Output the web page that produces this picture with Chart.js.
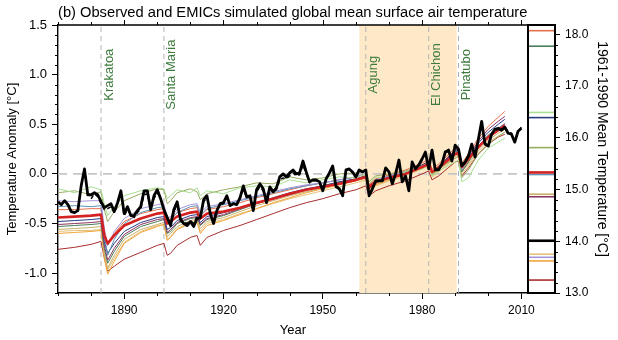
<!DOCTYPE html>
<html>
<head>
<meta charset="utf-8">
<script src="https://cdn.jsdelivr.net/npm/chart.js@4.4.1/dist/chart.umd.min.js"></script>
<style>
    html, body { margin: 0; padding: 0; background: #fff; }
    #wrap { position: relative; width: 618px; height: 340px; }
    #wrap canvas { position: absolute; left: 0; top: 0; }
</style>
</head>
<body>
<div id="wrap">
    <canvas id="mainChart" width="618" height="340"></canvas>
    <canvas id="sideChart" width="618" height="340"></canvas>
</div>
<script>
// observed anomaly, one value per year from 1870
const obsStartYear = 1870;
const observed = [
    -0.28, -0.31, -0.27, -0.31, -0.38, -0.39, -0.37, -0.12, 0.05, -0.21,
    -0.21, -0.19, -0.21, -0.28, -0.34, -0.32, -0.30, -0.38, -0.29, -0.17,
    -0.40, -0.33, -0.42, -0.42, -0.37, -0.33, -0.17, -0.17, -0.36, -0.22,
    -0.16, -0.25, -0.36, -0.44, -0.52, -0.36, -0.28, -0.46, -0.50, -0.52,
    -0.48, -0.53, -0.45, -0.44, -0.26, -0.22, -0.40, -0.50, -0.37, -0.30,
    -0.29, -0.22, -0.32, -0.30, -0.31, -0.24, -0.12, -0.23, -0.22, -0.37,
    -0.16, -0.10, -0.15, -0.29, -0.13, -0.18, -0.14, -0.03, 0.00, -0.03,
    0.01, 0.04, 0.00, 0.01, 0.13, 0.02, -0.08, -0.06, -0.06, -0.08,
    -0.17, -0.05, 0.01, 0.08, -0.13, -0.15, -0.22, 0.04, 0.05, 0.02,
    -0.03, 0.04, 0.02, 0.04, -0.22, -0.15, -0.07, -0.07, -0.07, 0.06,
    0.02, -0.10, 0.00, 0.14, -0.08, -0.02, -0.17, 0.12, 0.05, 0.09,
    0.15, 0.22, 0.05, 0.24, 0.04, 0.04, 0.10, 0.22, 0.24, 0.13,
    0.29, 0.25, 0.08, 0.12, 0.18, 0.30, 0.17, 0.35, 0.53, 0.30,
    0.28, 0.40, 0.45, 0.46, 0.44, 0.47, 0.41, 0.40, 0.32, 0.43, 0.46
];

// second observational record (dashed), one value per year from 1880
const obs2StartYear = 1880;
const observed2 = [
    -0.25, -0.20, -0.23, -0.30, -0.36, -0.35, -0.33, -0.39, -0.31, -0.19,
    -0.42, -0.36, -0.41, -0.44, -0.39, -0.35, -0.21, -0.20, -0.35, -0.25,
    -0.19, -0.24, -0.37, -0.45, -0.50, -0.39, -0.30, -0.45, -0.48, -0.50,
    -0.47, -0.50, -0.43, -0.42, -0.28, -0.24, -0.38, -0.47, -0.36, -0.31,
    -0.30, -0.24, -0.31, -0.30, -0.30, -0.25, -0.15, -0.24, -0.23, -0.35,
    -0.18, -0.13, -0.17, -0.28, -0.15, -0.19, -0.16, -0.06, -0.04, -0.05,
    -0.02, 0.01, -0.02, -0.01, 0.09, 0.00, -0.09, -0.07, -0.07, -0.09,
    -0.16, -0.06, 0.00, 0.06, -0.12, -0.14, -0.20, 0.03, 0.05, 0.01,
    -0.03, 0.03, 0.02, 0.03, -0.20, -0.14, -0.07, -0.06, -0.07, 0.05,
    0.02, -0.09, 0.00, 0.13, -0.08, -0.03, -0.15, 0.11, 0.05, 0.09,
    0.15, 0.21, 0.06, 0.23, 0.05, 0.05, 0.10, 0.21, 0.23, 0.14,
    0.28, 0.25, 0.09, 0.12, 0.19, 0.29, 0.18, 0.34, 0.50, 0.31,
    0.29, 0.40, 0.44, 0.45, 0.43, 0.48, 0.42, 0.41, 0.34, 0.43, 0.47
];

// EMIC runs, sampled at these years
const modelYears = [1870, 1875, 1880, 1883, 1884, 1885, 1887, 1890, 1895, 1900, 1902, 1903,
    1904, 1906, 1910, 1912, 1913, 1915, 1920, 1925, 1930, 1935, 1940, 1945, 1950, 1955, 1960,
    1963, 1964, 1966, 1970, 1975, 1980, 1982, 1983, 1985, 1990, 1991, 1992, 1994, 1997, 2000, 2003, 2005];

const emicMean = [-0.44, -0.43, -0.42, -0.41, -0.62, -0.70, -0.62, -0.52, -0.45, -0.40, -0.39, -0.50,
    -0.48, -0.43, -0.39, -0.38, -0.45, -0.40, -0.38, -0.34, -0.29, -0.25, -0.20, -0.16, -0.13, -0.10, -0.06,
    -0.03, -0.13, -0.08, -0.04, 0.00, 0.07, 0.10, 0.02, 0.06, 0.20, 0.21, 0.07, 0.15, 0.27, 0.37, 0.44, 0.49];

const runLightGreen = [-0.15, -0.19, -0.13, -0.16, -0.30, -0.42, -0.33, -0.22, -0.17, -0.14, -0.15, -0.25,
    -0.22, -0.16, -0.19, -0.14, -0.22, -0.17, -0.20, -0.14, -0.12, -0.13, -0.06, -0.09, -0.06, -0.03, -0.04,
    0.00, -0.10, -0.03, -0.05, 0.02, 0.05, 0.09, -0.02, 0.03, 0.12, 0.14, -0.08, -0.04, 0.14, 0.26, 0.32, 0.36];
const runOlive = [-0.19, -0.17, -0.21, -0.18, -0.36, -0.48, -0.38, -0.27, -0.20, -0.15, -0.16, -0.30,
    -0.27, -0.19, -0.15, -0.18, -0.26, -0.20, -0.16, -0.13, -0.09, -0.10, -0.03, -0.06, -0.04, 0.00, 0.01,
    0.03, -0.08, -0.02, 0.00, 0.03, 0.08, 0.12, 0.00, 0.05, 0.16, 0.18, -0.04, 0.04, 0.20, 0.30, 0.38, 0.42];
const runLavender = [-0.27, -0.28, -0.27, -0.27, -0.55, -0.72, -0.58, -0.45, -0.35, -0.31, -0.30, -0.45,
    -0.43, -0.36, -0.31, -0.30, -0.39, -0.33, -0.30, -0.26, -0.22, -0.18, -0.14, -0.11, -0.09, -0.06, -0.03,
    0.00, -0.12, -0.06, -0.02, 0.02, 0.08, 0.11, 0.01, 0.06, 0.20, 0.21, 0.05, 0.14, 0.27, 0.38, 0.46, 0.50];
const runSteel = [-0.33, -0.32, -0.33, -0.32, -0.62, -0.82, -0.66, -0.50, -0.39, -0.34, -0.33, -0.50,
    -0.47, -0.39, -0.33, -0.32, -0.42, -0.35, -0.31, -0.27, -0.23, -0.19, -0.15, -0.12, -0.09, -0.06, -0.03,
    0.00, -0.13, -0.07, -0.02, 0.02, 0.08, 0.11, 0.00, 0.06, 0.21, 0.22, 0.04, 0.14, 0.28, 0.39, 0.46, 0.51];
const runNavy = [-0.48, -0.47, -0.46, -0.45, -0.68, -0.80, -0.70, -0.58, -0.49, -0.44, -0.43, -0.56,
    -0.54, -0.47, -0.42, -0.41, -0.49, -0.43, -0.39, -0.34, -0.29, -0.24, -0.19, -0.15, -0.12, -0.08, -0.05,
    -0.02, -0.14, -0.08, -0.03, 0.01, 0.09, 0.12, 0.02, 0.07, 0.23, 0.24, 0.07, 0.16, 0.31, 0.42, 0.50, 0.55];
const runMaroon = [-0.51, -0.50, -0.49, -0.48, -0.72, -0.87, -0.75, -0.61, -0.51, -0.46, -0.45, -0.59,
    -0.56, -0.49, -0.44, -0.43, -0.51, -0.45, -0.41, -0.35, -0.30, -0.25, -0.21, -0.16, -0.13, -0.09, -0.06,
    -0.03, -0.15, -0.09, -0.04, 0.01, 0.09, 0.13, 0.02, 0.08, 0.24, 0.25, 0.08, 0.18, 0.33, 0.45, 0.53, 0.58];
const runDarkGreen = [-0.53, -0.52, -0.51, -0.50, -0.75, -0.90, -0.78, -0.63, -0.53, -0.48, -0.46, -0.60,
    -0.58, -0.50, -0.45, -0.44, -0.52, -0.46, -0.42, -0.36, -0.30, -0.25, -0.20, -0.16, -0.12, -0.08, -0.05,
    -0.02, -0.15, -0.09, -0.04, 0.01, 0.08, 0.12, 0.00, 0.06, 0.22, 0.23, 0.02, 0.12, 0.28, 0.39, 0.46, 0.50];
const runCoral = [-0.36, -0.36, -0.35, -0.35, -0.58, -0.72, -0.60, -0.48, -0.40, -0.36, -0.35, -0.48,
    -0.45, -0.39, -0.35, -0.34, -0.42, -0.36, -0.33, -0.29, -0.24, -0.20, -0.16, -0.12, -0.09, -0.06, -0.03,
    0.00, -0.11, -0.05, -0.01, 0.04, 0.11, 0.15, 0.05, 0.10, 0.26, 0.27, 0.11, 0.20, 0.36, 0.48, 0.57, 0.63];
const runTan = [-0.56, -0.55, -0.54, -0.53, -0.80, -0.95, -0.82, -0.66, -0.56, -0.51, -0.49, -0.63,
    -0.60, -0.53, -0.47, -0.46, -0.55, -0.48, -0.44, -0.38, -0.32, -0.27, -0.22, -0.18, -0.14, -0.10, -0.07,
    -0.04, -0.16, -0.10, -0.05, 0.00, 0.07, 0.10, -0.01, 0.04, 0.18, 0.19, 0.02, 0.10, 0.24, 0.34, 0.41, 0.45];
const runOrange = [-0.60, -0.59, -0.58, -0.57, -0.85, -1.01, -0.88, -0.70, -0.59, -0.53, -0.51, -0.67,
    -0.64, -0.56, -0.50, -0.49, -0.60, -0.52, -0.47, -0.41, -0.35, -0.29, -0.24, -0.19, -0.15, -0.11, -0.07,
    -0.04, -0.17, -0.11, -0.06, 0.00, 0.08, 0.12, 0.00, 0.05, 0.20, 0.21, 0.03, 0.12, 0.28, 0.39, 0.46, 0.50];
const runSand = [-0.58, -0.57, -0.57, -0.56, -0.82, -0.97, -0.85, -0.69, -0.58, -0.52, -0.51, -0.66,
    -0.63, -0.55, -0.49, -0.48, -0.58, -0.50, -0.46, -0.40, -0.35, -0.30, -0.25, -0.21, -0.17, -0.13, -0.09,
    -0.06, -0.18, -0.12, -0.07, -0.02, 0.05, 0.08, -0.03, 0.02, 0.16, 0.17, 0.00, 0.08, 0.22, 0.32, 0.38, 0.42];
const runDarkRed = [-0.76, -0.74, -0.71, -0.68, -0.85, -0.98, -0.93, -0.86, -0.79, -0.72, -0.70, -0.82,
    -0.80, -0.72, -0.64, -0.62, -0.72, -0.64, -0.57, -0.52, -0.46, -0.40, -0.34, -0.29, -0.25, -0.20, -0.16,
    -0.12, -0.22, -0.17, -0.12, -0.07, 0.00, 0.03, -0.06, -0.02, 0.12, 0.13, -0.02, 0.06, 0.20, 0.30, 0.37, 0.40];

// 1961-1990 mean temperature of each run (right panel), same order as runs below
const runMeanTemps = [16.49, 15.81, 13.69, 15.29, 16.39, 14.86, 17.77, 18.07, 14.91, 13.62, 13.75, 13.25];
const emicMeanTemp = 15.33;
const obsMeanTemp = 14.01;

const volcanoNames = ['Krakatoa', 'Santa Maria', 'Agung', 'El Chichon', 'Pinatubo'];
const volcanoYears = [1883, 1902, 1963, 1982, 1991];
const refPeriod = [1961, 1990.5];

const yTickValues = [-1.0, -0.5, 0.0, 0.5, 1.0, 1.5];
const xTickValues = [1890, 1920, 1950, 1980, 2010];
const rightTickValues = [13, 14, 15, 16, 17, 18];

const runs = [runLightGreen, runOlive, runLavender, runSteel, runNavy, runMaroon,
    runDarkGreen, runCoral, runTan, runOrange, runSand, runDarkRed];
const runColors = ['#a9de92', '#98ac62', '#a496d8', '#5f93b8', '#2b3c86', '#8c3563',
    '#4b7b58', '#e5724f', '#c9b26a', '#f2a43a', '#e3c27a', '#a92e2e'];

const FONT = "'Liberation Sans', Arial, Helvetica, sans-serif";
Chart.defaults.font.family = FONT;
Chart.defaults.color = '#000';

const Y_MIN = -1.2, Y_MAX = 1.5, X_MIN = 1870, X_MAX = 2012;
const toPoints = (xs, ys) => ys.map((v, i) => ({ x: xs[i], y: v }));

const mainSets = [];
mainSets.push({
    data: observed.map((v, i) => ({ x: obsStartYear + i, y: v })),
    borderColor: '#000', borderWidth: 2.8, order: 0
});
mainSets.push({
    data: observed2.map((v, i) => ({ x: obs2StartYear + i, y: v })),
    borderColor: '#000', borderWidth: 1.5, borderDash: [4, 3], order: 0
});
mainSets.push({
    data: toPoints(modelYears, emicMean),
    borderColor: '#d42222', borderWidth: 2.6, order: 1
});
runs.forEach((r, i) => {
    mainSets.push({ data: toPoints(modelYears, r), borderColor: runColors[i], borderWidth: 1, order: 2 });
});
mainSets.push({
    data: [{ x: X_MIN, y: 0 }, { x: X_MAX, y: 0 }],
    borderColor: '#c6c6c6', borderWidth: 1.6, borderDash: [9, 6], order: 3
});
volcanoYears.forEach((yr, i) => {
    mainSets.push({
        data: [{ x: yr, y: Y_MIN }, { x: yr, y: Y_MAX }],
        borderColor: i === 4 ? '#a9b2bc' : '#b4b4b4', borderWidth: 1, borderDash: [5, 4], order: 3
    });
});
mainSets.push({
    data: [{ x: refPeriod[0], y: Y_MAX }, { x: refPeriod[1], y: Y_MAX }],
    borderColor: 'rgba(0,0,0,0)', borderWidth: 0, fill: 'start',
    backgroundColor: '#fde8c8', order: 5
});

const mainDecor = {
    id: 'mainDecor',
    afterDatasetsDraw(chart) {
        const { ctx, scales: { x, y } } = chart;
        ctx.save();
        ctx.fillStyle = '#3d7b3d';
        ctx.font = '13px ' + FONT;
        ctx.textAlign = 'center';
        ctx.textBaseline = 'middle';
        volcanoYears.forEach((yr, i) => {
            ctx.save();
            ctx.translate(x.getPixelForValue(yr) + 8, y.getPixelForValue(1.0));
            ctx.rotate(-Math.PI / 2);
            ctx.fillText(volcanoNames[i], 0, 0);
            ctx.restore();
        });
        ctx.restore();
    },
    afterDraw(chart) {
        const { ctx, chartArea: a, scales: { x, y } } = chart;
        ctx.save();
        ctx.strokeStyle = '#000';
        ctx.lineWidth = 1.4;
        ctx.beginPath();
        ctx.moveTo(a.left, a.top);
        ctx.lineTo(a.right, a.top);
        ctx.lineTo(a.right, a.bottom);
        ctx.stroke();

        ctx.lineWidth = 1;
        ctx.beginPath();
        // minor ticks on the left axis
        for (let t = -12; t <= 15; t++) {
            if (t % 5 === 0) continue;
            const py = Math.round(y.getPixelForValue(t / 10)) + 0.5;
            ctx.moveTo(a.left, py);
            ctx.lineTo(a.left - 3, py);
        }
        // decade ticks, bottom and top
        for (let yr = 1870; yr <= 2010; yr += 10) {
            const px = Math.round(x.getPixelForValue(yr)) + 0.5;
            const major = xTickValues.includes(yr);
            if (!major) {
                ctx.moveTo(px, a.bottom);
                ctx.lineTo(px, a.bottom + 3);
            }
            ctx.moveTo(px, a.top);
            ctx.lineTo(px, a.top - (major ? 5 : 3));
        }
        ctx.stroke();
        ctx.restore();
    }
};

new Chart(document.getElementById('mainChart'), {
    type: 'line',
    data: { datasets: mainSets },
    options: {
        responsive: false,
        animation: false,
        events: [],
        layout: { padding: { left: 0, right: 90, top: 0, bottom: 0 } },
        elements: {
            point: { radius: 0 },
            line: { tension: 0, fill: false, borderJoinStyle: 'round' }
        },
        plugins: {
            legend: { display: false },
            tooltip: { enabled: false },
            title: {
                display: true,
                text: '(b) Observed and EMICs simulated global mean surface air temperature',
                align: 'start',
                fullSize: false,
                font: { size: 14.7, weight: 'normal', lineHeight: 1.2 },
                padding: { top: 4.5, bottom: 2.9 }
            }
        },
        scales: {
            x: {
                type: 'linear',
                min: X_MIN,
                max: X_MAX,
                afterBuildTicks: s => { s.ticks = xTickValues.map(v => ({ value: v })); },
                afterFit: s => { s.height = 47; },
                ticks: { font: { size: 12 }, padding: 4, callback: v => String(v), maxRotation: 0 },
                grid: { display: true, drawOnChartArea: false, drawTicks: true, tickLength: 6, tickColor: '#000', tickWidth: 1 },
                border: { display: true, color: '#000', width: 1.4 },
                title: { display: true, text: 'Year', font: { size: 13 }, padding: { top: 0, bottom: 2 } }
            },
            y: {
                type: 'linear',
                min: Y_MIN,
                max: Y_MAX,
                afterBuildTicks: s => { s.ticks = yTickValues.map(v => ({ value: v })); },
                afterFit: s => { s.width = 58; },
                ticks: { font: { size: 13 }, padding: 5, callback: v => v.toFixed(1) },
                grid: { display: true, drawOnChartArea: false, drawTicks: true, tickLength: 6, tickColor: '#000', tickWidth: 1 },
                border: { display: true, color: '#000', width: 1.4 },
                title: { display: true, text: 'Temperature Anomaly [°C]', font: { size: 13 }, padding: { top: 5, bottom: 0 } }
            }
        }
    },
    plugins: [mainDecor]
});

// right-hand panel: 1961-1990 mean of each run
const sideSets = [];
sideSets.push({ data: [{ x: 0, y: obsMeanTemp }, { x: 1, y: obsMeanTemp }], borderColor: '#000', borderWidth: 2.6 });
sideSets.push({ data: [{ x: 0, y: emicMeanTemp }, { x: 1, y: emicMeanTemp }], borderColor: '#d42222', borderWidth: 2.6 });
runMeanTemps.forEach((t, i) => {
    sideSets.push({ data: [{ x: 0, y: t }, { x: 1, y: t }], borderColor: runColors[i], borderWidth: 1.6 });
});

const sideDecor = {
    id: 'sideDecor',
    afterDraw(chart) {
        const { ctx, chartArea: a, scales: { y } } = chart;
        ctx.save();
        ctx.strokeStyle = '#000';
        ctx.lineWidth = 2;
        ctx.strokeRect(a.left, a.top, a.right - a.left, a.bottom - a.top);
        ctx.lineWidth = 1;
        ctx.beginPath();
        for (let t = 65; t <= 90; t++) {
            if (t % 5 === 0) continue;
            const py = Math.round(y.getPixelForValue(t / 5)) + 0.5;
            ctx.moveTo(a.right, py);
            ctx.lineTo(a.right + 3, py);
        }
        ctx.stroke();
        ctx.fillStyle = '#000';
        ctx.font = '14px ' + FONT;
        ctx.textAlign = 'center';
        ctx.textBaseline = 'middle';
        ctx.translate(602, (a.top + a.bottom) / 2 - 10);
        ctx.rotate(Math.PI / 2);
        ctx.fillText('1961-1990 Mean Temperature [°C]', 0, 0);
        ctx.restore();
    }
};

new Chart(document.getElementById('sideChart'), {
    type: 'line',
    data: { datasets: sideSets },
    options: {
        responsive: false,
        animation: false,
        events: [],
        layout: { padding: { left: 528, right: 0, top: 25, bottom: 47 } },
        elements: { point: { radius: 0 }, line: { tension: 0, fill: false } },
        plugins: { legend: { display: false }, tooltip: { enabled: false } },
        scales: {
            x: { type: 'linear', min: 0, max: 1, display: false },
            y: {
                type: 'linear',
                position: 'right',
                min: 13,
                max: 18.18,
                afterBuildTicks: s => { s.ticks = rightTickValues.map(v => ({ value: v })); },
                afterFit: s => { s.width = 63; },
                ticks: { font: { size: 12 }, padding: 5, callback: v => v.toFixed(1) },
                grid: { display: true, drawOnChartArea: false, drawTicks: true, tickLength: 5, tickColor: '#000', tickWidth: 1 },
                border: { display: false }
            }
        }
    },
    plugins: [sideDecor]
});
</script>
</body>
</html>
